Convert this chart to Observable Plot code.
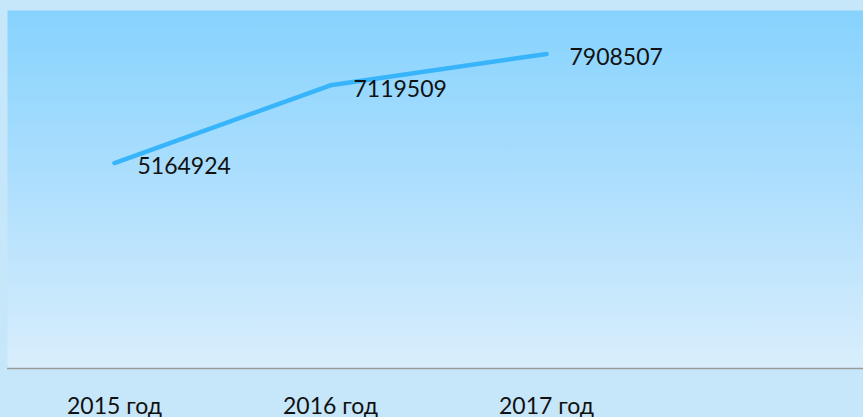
<!DOCTYPE html>
<html>
<head>
<meta charset="utf-8">
<script src="https://cdn.jsdelivr.net/npm/d3@7"></script>
<script src="https://cdn.jsdelivr.net/npm/@observablehq/plot@0.6"></script>
<style>
  html, body { margin: 0; padding: 0; background: #c6e6fa; overflow: hidden; }
  #chart { width: 863px; height: 417px; }
</style>
</head>
<body>
<div id="chart"></div>
<script>
const years = ["2015 год", "2016 год", "2017 год"];
const values = [5164924, 7119509, 7908507];
const valueLabels = ["5164924", "7119509", "7908507"];

const data = years.map((y, i) => ({year: y, value: values[i], label: valueLabels[i]}));

const chart = Plot.plot({
  width: 863,
  height: 417,
  marginTop: 10,
  marginBottom: 49,
  marginLeft: 7,
  marginRight: 0,
  style: {background: "#c6e6fa", fontFamily: "Lato, sans-serif", color: "#111"},
  x: {type: "point", domain: years, range: [113, 546], padding: 0, label: null},
  y: {domain: [0, 9000000], axis: null},
  marks: [
    Plot.frame({fill: "url(#bggrad)", stroke: null}),
    Plot.ruleY([0], {stroke: "#9a9a9a", strokeWidth: 1.5}),
    Plot.axisX({tickSize: 0, tickPadding: 29, fontSize: 23, fill: "#111"}),
    Plot.line(data, {x: "year", y: "value", stroke: "#38b4fa", strokeWidth: 4.5, strokeLinecap: "round", strokeLinejoin: "round"}),
    Plot.text(data, {x: "year", y: "value", text: "label", textAnchor: "start", dx: 23, dy: 4, fontSize: 23, fill: "#111"})
  ]
});

const svg = d3.select(chart);
const defs = svg.insert("defs", ":first-child");
const g = defs.append("linearGradient").attr("id", "bggrad").attr("x1", 0).attr("y1", 0).attr("x2", 0).attr("y2", 1);
g.append("stop").attr("offset", "0%").attr("stop-color", "#86d3fe");
g.append("stop").attr("offset", "50%").attr("stop-color", "#afdffd");
g.append("stop").attr("offset", "100%").attr("stop-color", "#d9eefc");

document.getElementById("chart").appendChild(chart);
</script>
</body>
</html>
